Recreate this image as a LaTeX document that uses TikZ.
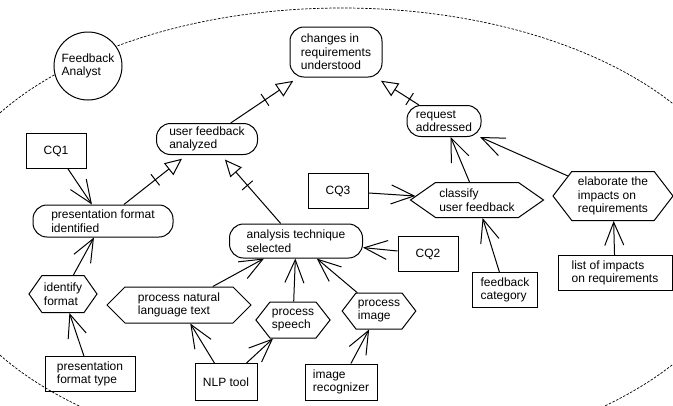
\documentclass[tikz,border=0pt]{standalone}
\usepackage{fontspec}
\setmainfont{Liberation Sans}
\usepackage{tikz}
\usetikzlibrary{shapes.geometric,shapes.symbols,arrows.meta,decorations.markings,positioning}

\begin{document}
\begin{tikzpicture}[x=1pt,y=-1pt,
  every node/.style={font=\fontsize{12}{13.5}\selectfont,align=left,inner sep=2pt},
  actor/.style={circle,draw,fill=white,line width=1pt,minimum size=68pt},
  goal/.style={rectangle,draw,rounded corners=14pt,line width=1pt},
  task/.style={signal,signal to=west and east,draw,line width=1pt,minimum height=36pt},
  res/.style={rectangle,draw,line width=1pt,minimum height=35pt},
  need/.style={-{Straight Barb[length=23pt,width=19pt]},line width=1pt},
  refine/.style={-{Triangle[open,length=17pt,width=15pt]},line width=1pt,shorten >=6pt,postaction={decorate},
    decoration={markings,mark=at position -40pt with {\draw[arrows=-,shorten >=0pt,line width=1pt] (0pt,-7pt)--(0pt,7pt);}}},
  boundary/.style={dash pattern=on 2.5pt off 1.5pt,line width=0.7pt}
]
\useasboundingbox (0,0) rectangle (673,405);
\begin{scope}
\clip (0,0) rectangle (673,405);
\draw[boundary] (342,234) ellipse [x radius=405pt,y radius=226pt];
\end{scope}
\node[actor] (analyst) at (88,66) {Feedback\\Analyst};
\node[goal,minimum width=92pt,minimum height=50pt] (changes) at (336,52) {changes in\\requirements\\understood};
\node[goal,minimum width=101pt,minimum height=31pt] (ufa) at (207,139) {user feedback\\analyzed};
\node[goal,minimum width=74pt,minimum height=31pt] (request) at (444,121) {request\\addressed};
\node[goal,minimum width=140pt,minimum height=32pt] (pfi) at (103,221) {presentation format\\identified};
\node[goal,minimum width=133pt,minimum height=34pt] (ats) at (296,241) {analysis technique\\selected};
\node[res,minimum width=60pt] (cq1) at (56,151) {CQ1};
\node[res,minimum width=60pt] (cq3) at (338,191) {CQ3};
\node[res,minimum width=60pt] (cq2) at (428,254) {CQ2};
\node[task,minimum width=133pt,minimum height=35pt,signal pointer angle=70] (classify) at (477,200) {classify\\user feedback};
\node[task,minimum width=120pt,minimum height=49pt,signal pointer angle=105] (elaborate) at (613,196) {elaborate the\\impacts on\\requirements};
\node[res,minimum width=65pt] (category) at (505,290) {feedback\\category};
\node[res,minimum width=114pt] (impacts) at (615,273) {list of impacts\\on requirements};
\node[task,minimum width=68pt,minimum height=37pt,signal pointer angle=110] (identify) at (63,294) {identify\\format};
\node[task,minimum width=144pt,signal pointer angle=90] (nlt) at (179,305) {process natural\\language text};
\node[task,minimum width=73pt,signal pointer angle=104] (speech) at (293,320) {process\\speech};
\node[task,minimum width=72pt,signal pointer angle=105] (image) at (379,311) {process\\image};
\node[res,minimum width=90pt] (pftype) at (90,374) {presentation\\format type};
\node[res,minimum width=62pt,minimum height=37pt] (nlp) at (226,382) {NLP tool};
\node[res,minimum width=72pt,minimum height=36pt] (recog) at (341,382) {image\\recognizer};
\draw[refine] (ufa)--(changes); \draw[refine] (request)--(changes);
\draw[refine] (pfi)--(ufa); \draw[refine] (ats)--(ufa);
\draw[need] (cq1)--(pfi); \draw[need] (identify)--(pfi); \draw[need] (pftype)--(identify);
\draw[need] (nlp)--(nlt); \draw[need] (nlp)--(speech);
\draw[need] (nlt)--(ats); \draw[need] (speech)--(ats); \draw[need] (image)--(ats);
\draw[need] (recog)--(image); \draw[need] (cq2)--(ats);
\draw[need] (cq3)--(classify); \draw[need] (category)--(classify);
\draw[need] (classify)--(request); \draw[need] (elaborate)--(request);
\draw[need] (impacts)--(elaborate);
\end{tikzpicture}
\end{document}
